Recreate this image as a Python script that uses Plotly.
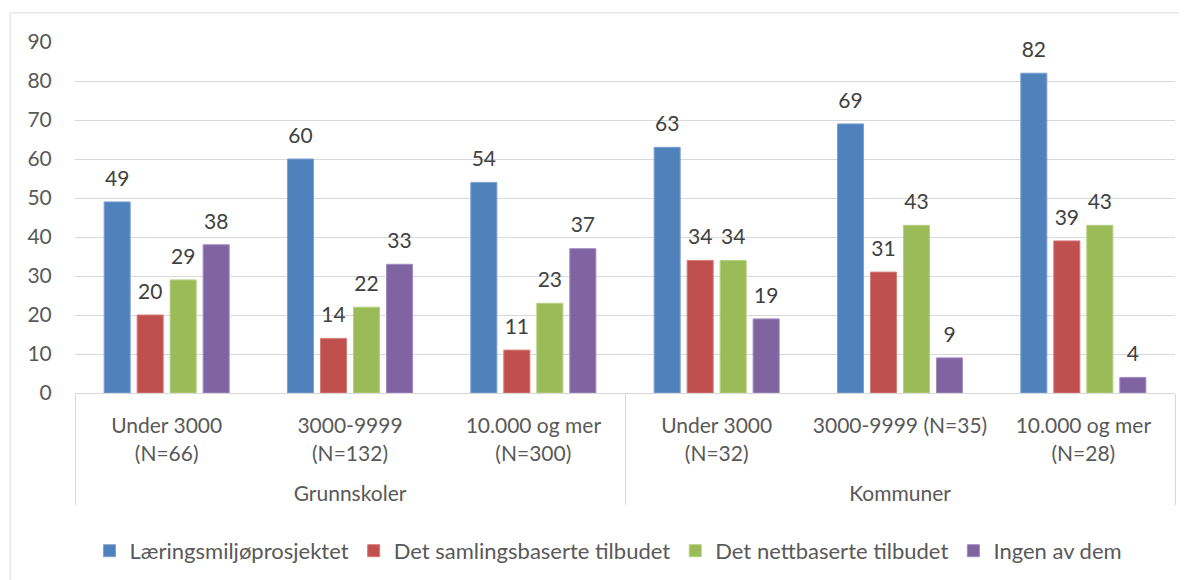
import plotly.graph_objects as go

groups = ["<br>Grunnskoler"] * 3 + ["<br>Kommuner"] * 3
sizes = [
    "Under 3000<br>(N=66)", "3000-9999<br>(N=132)", "10.000 og mer<br>(N=300)",
    "Under 3000<br>(N=32)", "3000-9999 (N=35)", "10.000 og mer<br>(N=28)",
]

series = ["Læringsmiljøprosjektet", "Det samlingsbaserte tilbudet",
          "Det nettbaserte tilbudet", "Ingen av dem"]
laeringsmiljo = [49, 60, 54, 63, 69, 82]
samlingsbasert = [20, 14, 11, 34, 31, 39]
nettbasert = [29, 22, 23, 34, 43, 43]
ingen = [38, 33, 37, 19, 9, 4]
values = [laeringsmiljo, samlingsbasert, nettbasert, ingen]
colors = ["#4F81BD", "#C0504D", "#9BBB59", "#8064A2"]
edges = ["#7DA1D3", "#D77B78", "#B5D17F", "#A08BC0"]

FONT = "Lato, 'Open Sans', sans-serif"
GREY = "#595959"
GRID = "#D9D9D9"

fig = go.Figure()

for i, (name, vals) in enumerate(zip(series, values)):
    fig.add_trace(go.Bar(
        x=[groups, sizes], y=vals, name=name,
        marker=dict(color=colors[i], line=dict(color=edges[i], width=1)),
        offsetgroup=str(i),
    ))

# value labels floated above each bar
for i, vals in enumerate(values):
    fig.add_trace(go.Scatter(
        x=[groups, sizes], y=vals, mode="markers+text",
        text=[str(v) for v in vals], textposition="top center",
        textfont=dict(family=FONT, size=21, color="#404040"),
        marker=dict(size=16, opacity=0),
        offsetgroup=str(i), showlegend=False, hoverinfo="skip",
        cliponaxis=False,
    ))

fig.update_layout(
    width=1179, height=572,
    barmode="group", scattermode="group",
    bargap=0.28, bargroupgap=0.21,
    plot_bgcolor="white", paper_bgcolor="white",
    font=dict(family=FONT, size=21, color=GREY),
    margin=dict(l=67, r=12, t=34, b=187, autoexpand=False),
    legend=dict(orientation="h", x=0.485, xanchor="center", y=-0.39, yanchor="top",
                font=dict(size=22, color=GREY), traceorder="normal"),
    shapes=[dict(type="rect", xref="paper", yref="paper",
                 x0=-0.059, x1=1.02, y0=-0.55, y1=1.083,
                 line=dict(color=GRID, width=1), layer="below")],
)

fig.update_yaxes(range=[0, 90], dtick=10, showgrid=True, gridcolor=GRID,
                 gridwidth=1, zeroline=False, showline=False, automargin=False,
                 tickfont=dict(size=21, color=GREY), ticks="outside", ticklen=18,
                 tickcolor="white")
fig.update_xaxes(showline=True, linecolor=GRID, linewidth=1, automargin=False,
                 tickangle=0, ticklabelstandoff=14,
                 showdividers=True, dividercolor=GRID, dividerwidth=1,
                 tickfont=dict(size=21, color=GREY))

fig.write_html("out.html")
